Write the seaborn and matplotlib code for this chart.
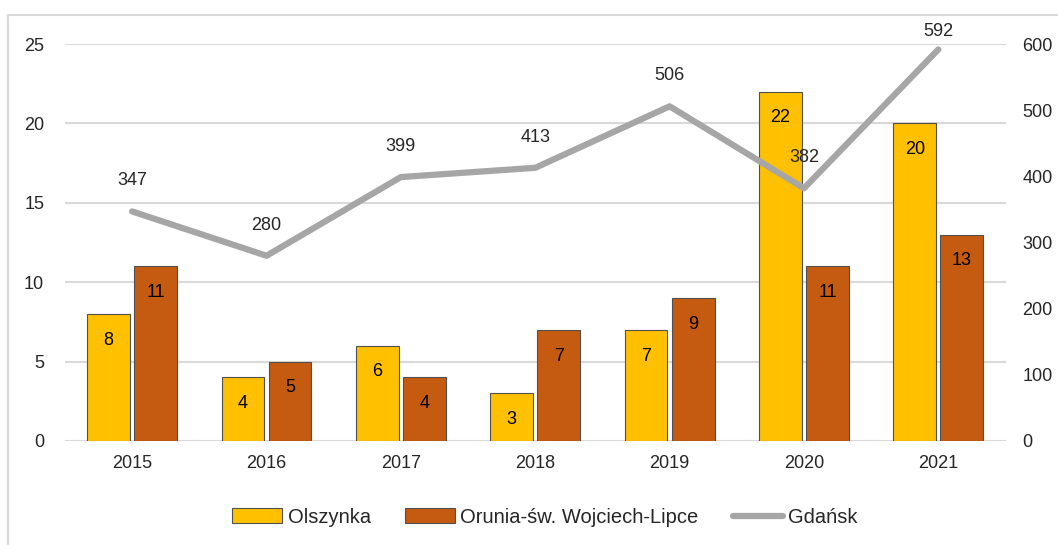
import numpy as np
import pandas as pd
import matplotlib.pyplot as plt
import seaborn as sns
from matplotlib.patches import Patch
from matplotlib.lines import Line2D

# Data
years = ['2015', '2016', '2017', '2018', '2019', '2020', '2021']
olszynka = [8, 4, 6, 3, 7, 22, 20]
orunia = [11, 5, 4, 7, 9, 11, 13]
gdansk = [347, 280, 399, 413, 506, 382, 592]
series_names = ['Olszynka', 'Orunia-św. Wojciech-Lipce', 'Gdańsk']

df = pd.DataFrame({
    'year': years * 2,
    'value': olszynka + orunia,
    'area': [series_names[0]] * len(years) + [series_names[1]] * len(years),
})

sns.set_theme(style='white')
plt.rcParams['font.family'] = ['Liberation Sans', 'DejaVu Sans']

bar_colors = ['#FFC000', '#C55A11']
line_color = '#A6A6A6'
grid_color = '#D9D9D9'
edge = '#505050'
fs = 13

fig = plt.figure(figsize=(10.58, 5.45), dpi=100)
ax = fig.add_axes([0.0614, 0.191, 0.889, 0.728])

sns.barplot(data=df, x='year', y='value', hue='area', palette=bar_colors,
            saturation=1, width=0.7, gap=0.09, edgecolor=edge, linewidth=0.8,
            legend=False, ax=ax)

ax.set_ylim(0, 25)
ax.set_yticks([0, 5, 10, 15, 20, 25])
ax.yaxis.grid(True, color=grid_color, linewidth=1.5)
ax.set_axisbelow(True)
ax.set_xlabel('')
ax.set_ylabel('')
for s in ax.spines.values():
    s.set_visible(False)
ax.tick_params(axis='y', length=0, pad=15, labelsize=fs)
ax.tick_params(axis='x', length=0, pad=10, labelsize=fs)

# bar labels inside the top
for cont in ax.containers:
    ax.bar_label(cont, label_type='edge', padding=-25, fontsize=fs, color='black')

# Gdańsk line on right axis
ax2 = ax.twinx()
sns.lineplot(x=np.arange(len(years)), y=gdansk, color=line_color, linewidth=4.5,
             ax=ax2, solid_capstyle='round')
ax2.set_ylim(0, 600)
ax2.set_yticks([0, 100, 200, 300, 400, 500, 600])
for s in ax2.spines.values():
    s.set_visible(False)
ax2.tick_params(axis='y', length=0, pad=12, labelsize=fs)
ax2.grid(False)
# last label sits lower, as it would hit the frame otherwise
label_offsets = [22, 22, 22, 22, 22, 22, 13]
for i, v in enumerate(gdansk):
    ax2.annotate(str(v), (i, v), xytext=(0, label_offsets[i]), textcoords='offset points',
                 ha='center', va='center', fontsize=fs, annotation_clip=False)
ax.set_xlim(-0.5, len(years) - 0.5)

handles = [
    Patch(facecolor=bar_colors[0], edgecolor=edge, linewidth=0.8),
    Patch(facecolor=bar_colors[1], edgecolor=edge, linewidth=0.8),
    Line2D([0], [0], color=line_color, linewidth=4.5, solid_capstyle='round'),
]
fig.legend(handles, series_names, loc='center', bbox_to_anchor=(0.515, 0.051),
           ncol=3, frameon=False, fontsize=14.5, handlelength=2.5,
           handleheight=0.75, handletextpad=0.25, columnspacing=1.7)

# light outer frame
fig.add_artist(Line2D([8 / 1058, 8 / 1058], [0, 1 - 15 / 545],
                      transform=fig.transFigure, color=grid_color, linewidth=1.5))
fig.add_artist(Line2D([8 / 1058, 1], [1 - 15 / 545, 1 - 15 / 545],
                      transform=fig.transFigure, color=grid_color, linewidth=1.5))

fig.savefig('out.png', dpi=100)
